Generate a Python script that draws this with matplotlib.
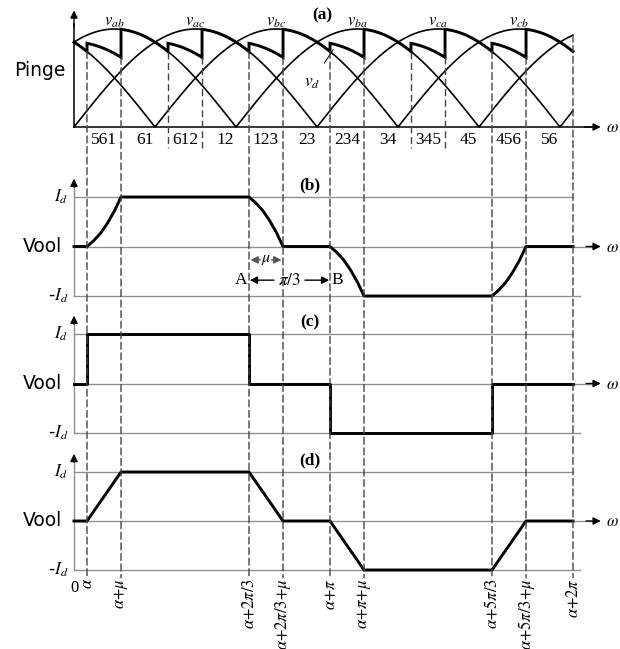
import numpy as np
import matplotlib.pyplot as plt
from matplotlib.patches import ConnectionPatch

plt.rcParams['mathtext.fontset'] = 'stix'
plt.rcParams['font.family'] = ['DejaVu Sans']

# angles (radians)
alpha = 0.168
mu = 0.44
step = np.pi / 3
wt_end = alpha + 2 * np.pi

# line voltages in the order of their peaks (first peak at pi/6)
volt_names = ['ab', 'ac', 'bc', 'ba', 'ca', 'cb']
first_peak = np.pi / 6

# conducting thyristors between the commutation marks
pair_labels = ['561', '61', '612', '12', '123', '23',
               '234', '34', '345', '45', '456', '56']

# phase current level (in Id) after each of the six commutations
levels = [1, 1, 0, -1, -1, 0]

# overlap current shape in (b): position inside mu -> fraction of the change
overlap_pos = [0, 0.2, 0.4, 0.6, 0.8, 1.0]
overlap_cur = [0, 0.12, 0.27, 0.47, 0.71, 1.0]

# rotated labels under (d)
bottom_labels = [r'$\alpha$', r'$\alpha{+}\mu$', None, None,
                 r'$\alpha{+}2\pi/3$', r'$\alpha{+}2\pi/3{+}\mu$',
                 r'$\alpha{+}\pi$', r'$\alpha{+}\pi{+}\mu$', None, None,
                 r'$\alpha{+}5\pi/3$', r'$\alpha{+}5\pi/3{+}\mu$',
                 r'$\alpha{+}2\pi$']

W, H = 620, 649
PX = 486 / (2 * np.pi)   # pixels per radian
X0 = -74 / PX
X1 = (W - 74) / PX
GRAY = '#8f8f8f'
SERIF = 'Liberation Serif'

fig = plt.figure(figsize=(6.2, 6.49), dpi=100)


def panel(top, bottom, zero, unit):
    ax = fig.add_axes([0, 1 - bottom / H, 1, (bottom - top) / H])
    ax.set_xlim(X0, X1)
    ax.set_ylim((zero - bottom) / unit, (zero - top) / unit)
    ax.axis('off')
    return ax


ax_a = panel(3, 150, 127, 98)
ax_b = panel(150, 305, 246.5, 49.5)
ax_c = panel(305, 445, 383.5, 49.5)
ax_d = panel(445, 649, 521, 49)


def arc(k, th):
    return np.sin(th - first_peak + np.pi / 2 - k * step)


def arrow(ax, xy, xytext, color='black'):
    ax.annotate('', xy=xy, xytext=xytext,
                arrowprops=dict(arrowstyle='-|>', color=color, lw=1.0,
                                mutation_scale=11, shrinkA=0, shrinkB=0))


# ---- (a) rectified line voltages and vd
th = np.linspace(0, wt_end, 1200)
for k in range(3):
    ax_a.plot(th, np.abs(arc(k, th)), color='black', lw=1.2)

xs, ys = [], []
t = np.linspace(0, alpha, 20)
xs += list(t); ys += list(arc(-1, t))
for k in range(6):
    t0 = alpha + k * step
    t = np.linspace(t0, t0 + mu, 30)
    xs += list(t); ys += list((arc(k - 1, t) + arc(k, t)) / 2)
    t = np.linspace(t0 + mu, t0 + step, 40)
    xs += list(t); ys += list(arc(k, t))
ax_a.plot(xs, ys, color='black', lw=2.1, solid_joinstyle='miter')

ax_a.plot([0, 6.75], [0, 0], color='black', lw=1.1)
arrow(ax_a, (6.81, 0), (6.6, 0))
ax_a.plot([0, 0], [0, 1.05], color='black', lw=1.1)
arrow(ax_a, (0, 1.19), (0, 1.02))
ax_a.text(6.88, 0, r'$\omega$', fontsize=12, ha='left', va='center')
ax_a.text(-0.116, 0.58, 'Pinge', fontsize=13.5, ha='right', va='center')
ax_a.text(3.21, 1.14, '(a)', family=SERIF, weight='bold', fontsize=12.5,
          ha='center', va='center')
for k, name in enumerate(volt_names):
    ax_a.text(first_peak + k * step, 1.08, r'$v_{%s}$' % name,
              fontsize=12, ha='center', va='center')
ax_a.annotate(r'$v_d$', xy=(3.35, 0.79), xytext=(3.08, 0.46),
              fontsize=12.5, ha='center', va='center',
              arrowprops=dict(arrowstyle='-', color='black', lw=0.7,
                              shrinkA=6, shrinkB=0))

# commutation marks and conducting pairs
bounds = []
for k in range(6):
    bounds += [alpha + k * step, alpha + k * step + mu]
bounds.append(wt_end)
for i, lab in enumerate(pair_labels):
    ax_a.text((bounds[i] + bounds[i + 1]) / 2, -0.135, lab, family=SERIF,
              fontsize=12.5, ha='center', va='center')

dash = (0, (5, 2.6))
for i, x in enumerate(bounds):
    k = i // 2
    if i == 12:
        v = arc(6, x)
    elif i % 2 == 0:
        v = arc(k - 1, x)
    else:
        v = (arc(k - 1, x) + arc(k, x)) / 2
    if k in (1, 4) and i != 12:
        ax_a.plot([x, x], [v, -0.21], color='#444444', lw=1.0, ls=dash)
    else:
        cp = ConnectionPatch(xyA=(x, v), coordsA=ax_a.transData,
                             xyB=(x, -1.16), coordsB=ax_d.transData,
                             arrowstyle='-', color='#444444', lw=1.0,
                             linestyle=dash)
        fig.add_artist(cp)

# ---- (b), (c), (d) phase currents
for ax, tag, mode in [(ax_b, '(b)', 'real'), (ax_c, '(c)', 'ideal'),
                      (ax_d, '(d)', 'linear')]:
    ax.plot([0, wt_end], [1, 1], color=GRAY, lw=1.0)
    ax.plot([0, 6.54], [-1, -1], color=GRAY, lw=1.0)
    ax.plot([0, 6.75], [0, 0], color=GRAY, lw=1.0)
    arrow(ax, (6.81, 0), (6.62, 0))
    ax.plot([0, 0], [-1, 1.25], color=GRAY, lw=1.0)
    arrow(ax, (0, 1.37), (0, 1.2))
    ax.text(6.88, 0, r'$\omega$', fontsize=12, ha='left', va='center')
    ax.text(-0.155, 0, 'Vool', fontsize=13.5, ha='right', va='center')
    ax.text(-0.075, 1, r'$I_d$', fontsize=12.5, ha='right', va='center')
    ax.text(-0.075, -1, r'-$I_d$', fontsize=12.5, ha='right', va='center')
    ax.text(3.05, 1.23, tag, family=SERIF, weight='bold', fontsize=12.5,
            ha='center', va='center')

    xs, ys = [0], [0]
    prev = 0
    for k, new in enumerate(levels):
        t0 = alpha + k * step
        if mode == 'ideal':
            xs += [t0, t0]; ys += [prev, new]
        elif mode == 'linear':
            xs += [t0, t0 + mu]; ys += [prev, new]
        else:
            for p, c in zip(overlap_pos, overlap_cur):
                xs.append(t0 + p * mu)
                ys.append(prev + (new - prev) * c)
        prev = new
    xs.append(wt_end); ys.append(prev)
    ax.plot(xs, ys, color='black', lw=2.1)

# mu and pi/3 spans in (b)
xa = alpha + 2 * step
xm = xa + mu / 2
ax_b.text(xm, -0.27, r'$\mu$', fontsize=11.5, ha='center', va='center')
arrow(ax_b, (xa + 0.02, -0.27), (xm - 0.07, -0.27), color='#555555')
arrow(ax_b, (xa + mu - 0.02, -0.27), (xm + 0.07, -0.27), color='#555555')
xb = alpha + 3 * step
xp = (xa + xb) / 2
ax_b.text(xa - 0.02, -0.68, 'A', family=SERIF, fontsize=12.5, ha='right', va='center')
ax_b.text(xb + 0.02, -0.68, 'B', family=SERIF, fontsize=12.5, ha='left', va='center')
ax_b.text(xp, -0.68, r'$\pi/3$', fontsize=12.5, ha='center', va='center')
arrow(ax_b, (xa + 0.01, -0.68), (xp - 0.2, -0.68))
arrow(ax_b, (xb - 0.01, -0.68), (xp + 0.2, -0.68))

# rotated labels under (d)
ax_d.text(0.0, -1.2, '0', family=SERIF, fontsize=12, ha='center', va='top')
for x, lab in zip(bounds, bottom_labels):
    if lab:
        ax_d.text(x, -1.17, lab, fontsize=12, rotation=90,
                  ha='center', va='top')

fig.savefig('out.png', dpi=100)
